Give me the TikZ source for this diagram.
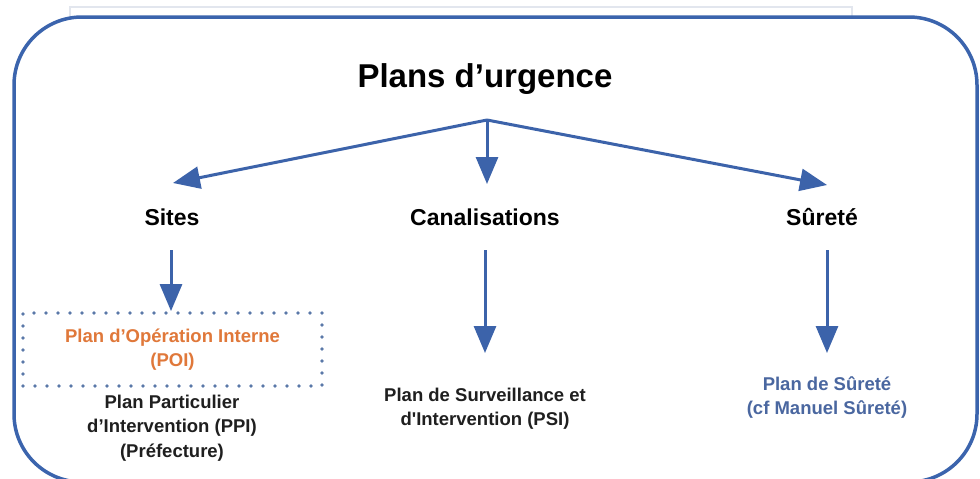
\documentclass[tikz,border=0pt]{standalone}
\usepackage{fontspec}
\setmainfont{Liberation Sans}
\usetikzlibrary{arrows.meta}
\definecolor{frameblue}{HTML}{3B64AD}
\definecolor{arrowblue}{HTML}{3C63AA}
\definecolor{dotblue}{HTML}{5A78A8}
\definecolor{poiorange}{HTML}{E0783A}
\definecolor{plangrey}{HTML}{4A67A0}
\definecolor{faintgrey}{HTML}{E2E6EE}
\tikzset{
  arr/.style={draw=arrowblue, line width=3pt, -{Triangle[length=27pt,width=22pt]}},
  title/.style={font=\bfseries\fontsize{33}{38}\selectfont, inner sep=0pt},
  level/.style={font=\bfseries\fontsize{23}{27}\selectfont, inner sep=0pt},
  plan/.style={font=\bfseries\fontsize{18.5}{24.5}\selectfont, align=center, inner sep=0pt},
  dotbox/.style={draw=dotblue, line width=3.8pt, line cap=round, dash pattern=on 0pt off 12pt,
     minimum width=299pt, minimum height=73pt, inner sep=0pt}
}
\begin{document}
\begin{tikzpicture}[x=1pt,y=-1pt]
\useasboundingbox (0,0) rectangle (980,479);
\clip (0,0) rectangle (980,479);
\fill[white] (0,0) rectangle (980,479);
% faint background frame
\draw[faintgrey, line width=1.2pt] (70,60) -- (70,7) -- (852,7) -- (852,60);
% main rounded frame
\draw[frameblue, line width=3.5pt, fill=white, rounded corners=68pt] (14,17) rectangle (977,482);

% texts
\node[title] (titre) at (485,79) {Plans d’urgence};
\node[level] (sites) at (172,217) {Sites};
\node[level] (canal) at (485,217) {Canalisations};
\node[level] (surete) at (822,217) {Sûreté};

\node[dotbox] (poi) at (172.5,349.5) {};
\node[plan, text=poiorange] (poitext) at (poi.center) {Plan d’Opération Interne\\(POI)};
\node[plan, text=black!88] (ppi) at (172,428) {Plan Particulier\\d’Intervention (PPI)\\(Préfecture)};
\node[plan, text=black!88] (psi) at (485,408.5) {Plan de Surveillance et\\d\textquotesingle Intervention (PSI)};
\node[plan, text=plangrey] (psur) at (827,397.5) {Plan de Sûreté\\(cf Manuel Sûreté)};

% connector points
\coordinate (apex) at (487,120);
\coordinate (tipS) at (173,183);
\coordinate (tipC) at (487,184);
\coordinate (tipR) at (827,185);
\coordinate (fromS) at (171,250);
\coordinate (fromC) at (485,250);
\coordinate (toC) at (485,353);
\coordinate (fromR) at (827,250);
\coordinate (toR) at (827,353);

\draw[arr] (apex) -- (tipS);
\draw[arr] (apex) -- (tipC);
\draw[arr] (apex) -- (tipR);
\draw[arr] (fromS) -- (fromS |- poi.north);
\draw[arr] (fromC) -- (toC);
\draw[arr] (fromR) -- (toR);
\end{tikzpicture}
\end{document}
